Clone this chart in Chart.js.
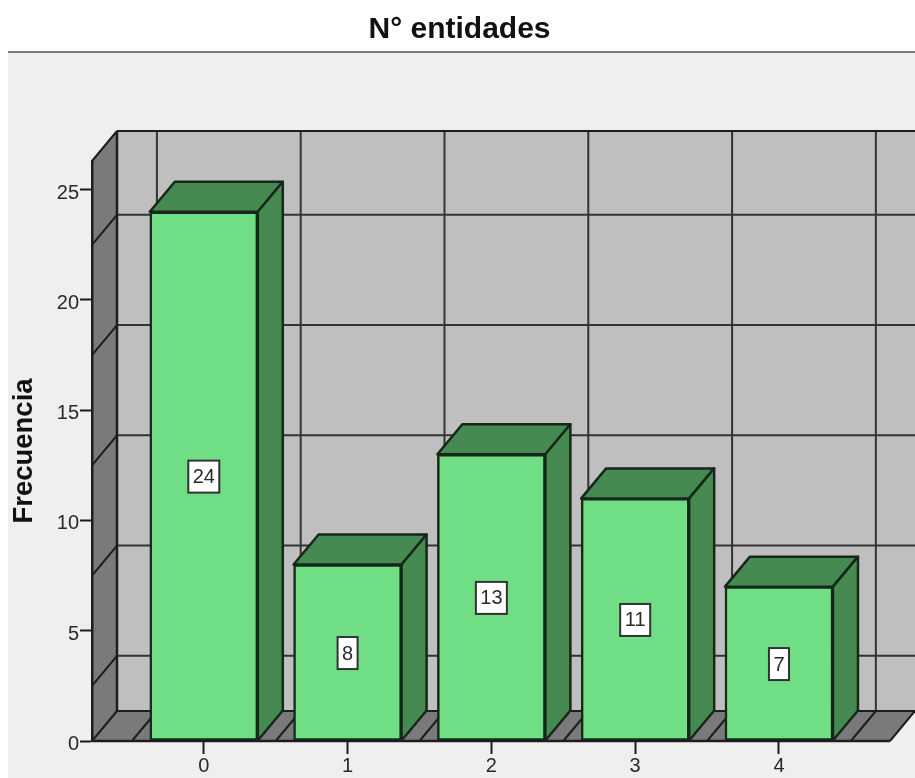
<!DOCTYPE html>
<html>
<head>
<meta charset="utf-8">
<title>N° entidades</title>
<script src="https://cdn.jsdelivr.net/npm/chart.js@4/dist/chart.umd.min.js"></script>
<style>
  html, body { margin: 0; padding: 0; background: #fff; }
  canvas { display: block; }
</style>
</head>
<body>
<canvas id="c" width="915" height="778"></canvas>
<script>
// Frequency of the number of entities, drawn as an SPSS-style 3D bar chart
const titleText = 'N° entidades';
const yAxisTitle = 'Frecuencia';
const categories = [0, 1, 2, 3, 4];
const frequencies = [24, 8, 13, 11, 7];
const yTop = 26.3;

// Projection of the depth axis, in pixels
const DEPTH_X = 25;
const DEPTH_Y = 30;

const INK = '#1d1d1d';
const PANEL = '#efefef';
const WALL_BACK = '#bfbfbf';
const WALL_SIDE = '#7a7a7a';
const BAR_FRONT = '#70de84';
const BAR_SHADE = '#468a52';
const BAR_EDGE = '#16281a';
const SANS = '"Liberation Sans", Arial, sans-serif';

function poly(ctx, pts, fill, stroke, width) {
  ctx.beginPath();
  pts.forEach((p, i) => i ? ctx.lineTo(p[0], p[1]) : ctx.moveTo(p[0], p[1]));
  ctx.closePath();
  if (fill) { ctx.fillStyle = fill; ctx.fill(); }
  if (stroke) { ctx.strokeStyle = stroke; ctx.lineWidth = width; ctx.lineJoin = 'round'; ctx.stroke(); }
}

function line(ctx, x1, y1, x2, y2, color, width) {
  ctx.beginPath();
  ctx.moveTo(x1, y1);
  ctx.lineTo(x2, y2);
  ctx.strokeStyle = color;
  ctx.lineWidth = width;
  ctx.stroke();
}

// Panel, walls, floor and the grid that runs across them
const roomPlugin = {
  id: 'room',
  beforeDraw(chart) {
    const { ctx, chartArea: a, scales: { x, y } } = chart;
    const floorRight = a.right - DEPTH_X;
    ctx.save();
    ctx.fillStyle = PANEL;
    ctx.fillRect(8, 53, chart.width - 8, chart.height - 53);
    line(ctx, 8, 52, chart.width, 52, '#7c7c7c', 2);

    poly(ctx, [[a.left + DEPTH_X, a.top - DEPTH_Y], [a.right, a.top - DEPTH_Y],
               [a.right, a.bottom - DEPTH_Y], [a.left + DEPTH_X, a.bottom - DEPTH_Y]], WALL_BACK);
    poly(ctx, [[a.left, a.top], [a.left + DEPTH_X, a.top - DEPTH_Y],
               [a.left + DEPTH_X, a.bottom - DEPTH_Y], [a.left, a.bottom]], WALL_SIDE);
    poly(ctx, [[a.left, a.bottom], [a.left + DEPTH_X, a.bottom - DEPTH_Y],
               [a.right, a.bottom - DEPTH_Y], [floorRight, a.bottom]], WALL_SIDE);

    // Grid lines sit halfway between the value ticks and between the categories
    for (let v = 2.5; v < yTop; v += 5) {
      const py = y.getPixelForValue(v);
      line(ctx, a.left, py, a.left + DEPTH_X, py - DEPTH_Y, INK, 2);
      line(ctx, a.left + DEPTH_X, py - DEPTH_Y, a.right, py - DEPTH_Y, '#333', 2);
    }
    categories.concat(categories.length).forEach(c => {
      const px = x.getPixelForValue(c - 0.5);
      line(ctx, px, a.bottom, px + DEPTH_X, a.bottom - DEPTH_Y, INK, 2);
      line(ctx, px + DEPTH_X, a.bottom - DEPTH_Y, px + DEPTH_X, a.top - DEPTH_Y, '#333', 2);
    });

    line(ctx, a.left + DEPTH_X, a.top - DEPTH_Y, a.right, a.top - DEPTH_Y, INK, 2);
    line(ctx, a.left + DEPTH_X, a.bottom - DEPTH_Y, a.right, a.bottom - DEPTH_Y, INK, 2);
    line(ctx, a.left + DEPTH_X, a.top - DEPTH_Y, a.left + DEPTH_X, a.bottom - DEPTH_Y, INK, 2.5);
    line(ctx, a.left, a.top, a.left + DEPTH_X, a.top - DEPTH_Y, INK, 2);
    line(ctx, a.left, a.bottom, a.left + DEPTH_X, a.bottom - DEPTH_Y, INK, 2);
    line(ctx, floorRight, a.bottom, a.right, a.bottom - DEPTH_Y, INK, 2);
    line(ctx, a.left, a.bottom, floorRight, a.bottom, INK, 2.5);
    ctx.restore();
  },
  // Top and side faces go behind the library's front rectangles
  beforeDatasetsDraw(chart) {
    const { ctx } = chart;
    ctx.save();
    chart.getDatasetMeta(0).data.forEach(bar => {
      const l = bar.x - bar.width / 2;
      const r = bar.x + bar.width / 2;
      poly(ctx, [[l, bar.y], [l + DEPTH_X, bar.y - DEPTH_Y], [r + DEPTH_X, bar.y - DEPTH_Y], [r, bar.y]],
           BAR_SHADE, BAR_EDGE, 2.5);
      poly(ctx, [[r, bar.y], [r + DEPTH_X, bar.y - DEPTH_Y], [r + DEPTH_X, bar.base - DEPTH_Y], [r, bar.base]],
           BAR_SHADE, BAR_EDGE, 2.5);
    });
    ctx.restore();
  },
  // White value boxes centred on each bar's front face
  afterDatasetsDraw(chart) {
    const { ctx } = chart;
    ctx.save();
    ctx.font = '20px ' + SANS;
    ctx.textAlign = 'center';
    ctx.textBaseline = 'middle';
    chart.getDatasetMeta(0).data.forEach((bar, i) => {
      const text = String(frequencies[i]);
      const w = Math.round(ctx.measureText(text).width) + 9;
      const h = 32;
      const cy = (bar.y + bar.base) / 2 + 0.5;
      ctx.fillStyle = '#fff';
      ctx.fillRect(bar.x - w / 2, cy - h / 2, w, h);
      ctx.strokeStyle = '#333';
      ctx.lineWidth = 2;
      ctx.strokeRect(bar.x - w / 2, cy - h / 2, w, h);
      ctx.fillStyle = '#2a2a2a';
      ctx.fillText(text, bar.x, cy + 1);
    });
    ctx.restore();
  }
};

new Chart(document.getElementById('c'), {
  type: 'bar',
  data: {
    datasets: [{
      data: categories.map((c, i) => ({ x: c, y: frequencies[i] })),
      backgroundColor: BAR_FRONT,
      borderColor: BAR_EDGE,
      borderWidth: 2.5,
      barThickness: 108,
      borderSkipped: false
    }]
  },
  plugins: [roomPlugin],
  options: {
    responsive: false,
    animation: false,
    events: [],
    layout: { padding: { left: 4, right: 0, top: 0, bottom: 0 } },
    plugins: {
      legend: { display: false },
      tooltip: { enabled: false },
      title: {
        display: true,
        text: titleText,
        color: '#111',
        font: { family: SANS, size: 30, weight: 'bold', lineHeight: 1.2 },
        padding: { top: 12, bottom: 113 }
      }
    },
    scales: {
      x: {
        type: 'linear',
        offset: false,
        min: -0.7775,
        max: 4.946,
        afterFit(s) { s.height = 37; },
        grid: { offset: false, drawOnChartArea: false, tickLength: 13, tickColor: INK, tickWidth: 2 },
        border: { display: false },
        ticks: {
          stepSize: 1,
          includeBounds: false,
          padding: 0,
          maxRotation: 0,
          color: '#2a2a2a',
          font: { family: SANS, size: 20 },
          callback: v => categories.includes(v) ? String(v) : ''
        }
      },
      y: {
        min: 0,
        max: yTop,
        afterFit(s) { s.width = 88; },
        title: {
          display: true,
          text: yAxisTitle,
          color: '#111',
          font: { family: SANS, size: 27.5, weight: 'bold' },
          padding: { top: 4, bottom: 0 }
        },
        grid: { drawOnChartArea: false, tickLength: 12, tickColor: INK, tickWidth: 2 },
        border: { display: true, color: INK, width: 2.5 },
        ticks: {
          stepSize: 5,
          includeBounds: false,
          padding: 1,
          labelOffset: 3.5,
          color: '#2a2a2a',
          font: { family: SANS, size: 20 }
        }
      }
    }
  }
});
</script>
</body>
</html>
